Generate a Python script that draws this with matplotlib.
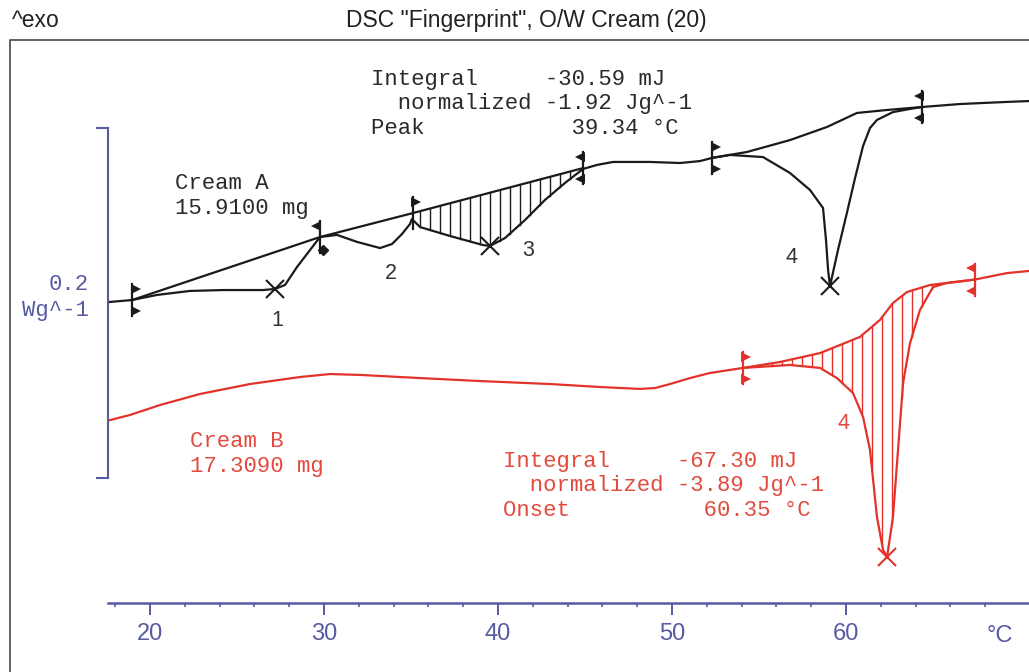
import numpy as np
import matplotlib
matplotlib.use("Agg")
import matplotlib.pyplot as plt
from matplotlib.lines import Line2D

# ---------------- data: temperature (°C) and heat flow (W/g, exo up) ----------------
cream_a_temp = [17.70, 18.97, 20.40, 22.30, 24.20, 26.49, 27.18, 27.76, 28.45, 29.20,
                29.77, 30.75, 31.90, 33.22, 33.91, 34.48, 34.94, 35.05, 35.52, 37.24,
                39.14, 39.54, 40.40, 41.55, 42.70, 43.85, 44.89, 45.69, 46.61, 48.74,
                50.46, 51.61, 52.30, 53.33, 55.23, 56.78, 57.93, 58.68, 58.85, 58.97,
                59.08, 59.54, 60.05, 60.52, 60.98, 61.38, 61.78, 62.70, 63.68, 64.37,
                66.55, 69.25, 70.52]
cream_a_hf = [0.1006, 0.1017, 0.1046, 0.1069, 0.1074, 0.1074, 0.1080, 0.1103, 0.1206, 0.1303,
              0.1377, 0.1389, 0.1349, 0.1314, 0.1337, 0.1394, 0.1451, 0.1480, 0.1434, 0.1383,
              0.1331, 0.1326, 0.1371, 0.1474, 0.1589, 0.1686, 0.1766, 0.1789, 0.1806, 0.1806,
              0.1800, 0.1811, 0.1829, 0.1846, 0.1834, 0.1743, 0.1646, 0.1543, 0.1360, 0.1189,
              0.1097, 0.1303, 0.1514, 0.1714, 0.1897, 0.2000, 0.2046, 0.2091, 0.2109, 0.2120,
              0.2137, 0.2149, 0.2154]
# straight integration baselines, peaks 1-3
cream_a_base_temp = [18.97, 29.77, 35.11, 44.89]
cream_a_base_hf = [0.1017, 0.1377, 0.1514, 0.1771]
# sigmoid baseline, peak 4
cream_a_base4_temp = [52.30, 54.31, 56.78, 58.91, 60.63, 62.36, 64.37]
cream_a_base4_hf = [0.1829, 0.1863, 0.1931, 0.2006, 0.2086, 0.2103, 0.2120]
cream_a_peak_temp = [27.18, 39.54, 59.08]
cream_a_peak_hf = [0.1080, 0.1326, 0.1097]
cream_a_limits = [18.97, 29.77, 35.11, 44.89, 52.30, 64.37]
cream_a_mark_temp = 29.94
cream_a_mark_hf = 0.1303

cream_b_temp = [17.70, 18.85, 20.57, 22.87, 25.75, 28.62, 30.34, 32.07, 35.52, 38.97,
                42.99, 45.86, 48.16, 49.02, 49.89, 51.03, 52.18, 54.08, 56.78, 58.51,
                59.48, 60.40, 60.98, 61.38, 61.78, 62.13, 62.36, 62.70, 62.99, 63.28,
                63.68, 64.25, 65.00, 65.80, 67.41, 69.25, 70.52]
cream_b_hf = [0.0331, 0.0360, 0.0417, 0.0480, 0.0537, 0.0577, 0.0594, 0.0589, 0.0571, 0.0554,
              0.0537, 0.0520, 0.0509, 0.0514, 0.0537, 0.0571, 0.0600, 0.0629, 0.0646, 0.0629,
              0.0571, 0.0486, 0.0349, 0.0160, -0.0223, -0.0411, -0.0451, -0.0223, 0.0160, 0.0543,
              0.0771, 0.0960, 0.1091, 0.1114, 0.1134, 0.1171, 0.1183]
cream_b_base_temp = [54.08, 56.21, 58.51, 60.80, 61.95, 62.70, 63.51, 64.83, 67.41]
cream_b_base_hf = [0.0629, 0.0663, 0.0714, 0.0806, 0.0903, 0.1000, 0.1063, 0.1103, 0.1134]
cream_b_peak_temp = [62.36]
cream_b_peak_hf = [-0.0451]
cream_b_limits = [54.08, 67.41]

major_ticks = [20, 30, 40, 50, 60]
minor_ticks = list(range(18, 69, 2))
scale_bar = [0.0, 0.2]

title = 'DSC "Fingerprint", O/W Cream (20)'
info_a = ["Integral     -30.59 mJ", "  normalized -1.92 Jg^-1", "Peak           39.34 °C"]
info_b = ["Integral     -67.30 mJ", "  normalized -3.89 Jg^-1", "Onset          60.35 °C"]
sample_a = ["Cream A", "15.9100 mg"]
sample_b = ["Cream B", "17.3090 mg"]

# ---------------- layout ----------------
W, H = 1029, 672
PX_PER_DEG = 17.4
X20 = 150.0
PX_PER_WG = 350.0 / 0.2
Y0 = 478.0


def px2t(px):
    return 20 + (px - X20) / PX_PER_DEG


def py2hf(py):
    return (Y0 - py) / PX_PER_WG


def fx(x):
    return x / W


def fy(y):
    return 1 - y / H


BLACK = "#1a1a1a"
TXT = "#2a2a2a"
RED = "#e3322a"
RED_TXT = "#e24a3e"
BLUE = "#565ba2"
MONO = ["Liberation Mono", "DejaVu Sans Mono"]
SANS = ["Liberation Sans", "DejaVu Sans"]

fig = plt.figure(figsize=(W / 100, H / 100), dpi=100)
ax = fig.add_axes([0, 0, 1, 1])
ax.set_xlim(px2t(0), px2t(W))
ax.set_ylim(py2hf(H), py2hf(0))
ax.patch.set_alpha(0)
for s in ["left", "right", "top"]:
    ax.spines[s].set_visible(False)
ax.yaxis.set_visible(False)
sp = ax.spines["bottom"]
sp.set_position(("data", py2hf(603)))
sp.set_bounds(px2t(108), px2t(W))
sp.set_color(BLUE)
sp.set_linewidth(1.8)
ax.set_xticks(major_ticks)
ax.set_xticks(minor_ticks, minor=True)
ax.tick_params(axis="x", which="major", direction="out", length=8.6, width=1.4,
               colors=BLUE, labelsize=17, pad=6)
ax.tick_params(axis="x", which="minor", direction="out", length=3, width=1.2, colors=BLUE)
for lbl in ax.get_xticklabels():
    lbl.set_family(SANS)

# frame
fig.add_artist(Line2D([fx(10), fx(10), fx(W + 20)], [fy(H + 20), fy(40), fy(40)],
                      color="#555555", lw=1.3))

# scale bar
tb0, tb1 = px2t(97), px2t(108)
ax.plot([tb0, tb1, tb1, tb0], [scale_bar[1], scale_bar[1], scale_bar[0], scale_bar[0]],
        color=BLUE, lw=1.5, solid_joinstyle="miter")
fig.text(fx(89), fy(290), "0.2", family=MONO, size=16, color=BLUE, ha="right", va="baseline")
fig.text(fx(89), fy(316), "Wg^-1", family=MONO, size=16, color=BLUE, ha="right", va="baseline")

# curves
ax.plot(cream_a_temp, cream_a_hf, color=BLACK, lw=1.6)
ax.plot(cream_a_base_temp, cream_a_base_hf, color=BLACK, lw=1.6)
ax.plot(cream_a_base4_temp, cream_a_base4_hf, color=BLACK, lw=1.6)
ax.plot(cream_b_temp, cream_b_hf, color=RED, lw=1.6)
ax.plot(cream_b_base_temp, cream_b_base_hf, color=RED, lw=1.6)


def hatch(t0, t1, base_t, base_y, cur_t, cur_y, color):
    for t in np.arange(t0, t1, 10 / PX_PER_DEG):
        yt = np.interp(t, base_t, base_y)
        yb = np.interp(t, cur_t, cur_y)
        if yt > yb:
            ax.plot([t, t], [yb, yt], color=color, lw=1.0)


hatch(px2t(420), px2t(580), cream_a_base_temp, cream_a_base_hf, cream_a_temp, cream_a_hf, BLACK)
hatch(px2t(772), px2t(960), cream_b_base_temp, cream_b_base_hf, cream_b_temp, cream_b_hf, RED)

# peak crosses
ax.plot(cream_a_peak_temp, cream_a_peak_hf, "x", color=BLACK, ms=13, mew=1.5)
ax.plot(cream_b_peak_temp, cream_b_peak_hf, "x", color=RED, ms=13, mew=1.5)
ax.plot([cream_a_mark_temp], [cream_a_mark_hf], "D", color=BLACK, ms=5.5)


def limit_mark(t, y, color, left, top=True, bottom=True):
    dy = 16 / PX_PER_WG
    ax.plot([t, t], [y - dy, y + dy], color=color, lw=1.6)
    dx = (-3.5 if left else 3.5) / PX_PER_DEG
    ys = []
    if top:
        ys.append(y + 0.7 * dy)
    if bottom:
        ys.append(y - 0.7 * dy)
    ax.plot([t + dx] * len(ys), ys, "<" if left else ">", color=color, ms=7.5, mew=0)


ya = np.interp(cream_a_limits, cream_a_base_temp + cream_a_base4_temp,
               cream_a_base_hf + cream_a_base4_hf)
limit_mark(cream_a_limits[0], ya[0], BLACK, left=False)
limit_mark(cream_a_limits[1], ya[1], BLACK, left=True, bottom=False)
limit_mark(cream_a_limits[2], ya[2], BLACK, left=False, bottom=False)
limit_mark(cream_a_limits[3], ya[3], BLACK, left=True)
limit_mark(cream_a_limits[4], ya[4], BLACK, left=False)
limit_mark(cream_a_limits[5], ya[5], BLACK, left=True)
yb = np.interp(cream_b_limits, cream_b_base_temp, cream_b_base_hf)
limit_mark(cream_b_limits[0], yb[0], RED, left=False)
limit_mark(cream_b_limits[1], yb[1], RED, left=True)

# peak numbers
for txt, x, y, c in [("1", 277, 326, "#333333"), ("2", 391, 279, "#333333"),
                     ("3", 528, 256, "#333333"), ("4", 792, 263, "#333333"),
                     ("4", 843, 429, RED_TXT)]:
    fig.text(fx(x), fy(y), txt, family=SANS, size=15.5, color=c, ha="center", va="baseline")

# texts
fig.text(fx(12), fy(27), "^exo", family=SANS, size=16.5, color="#222222", va="baseline")
fig.text(fx(526), fy(27), title, family=SANS, size=16.5, color="#222222", ha="center",
         va="baseline")
for i, line in enumerate(info_a):
    fig.text(fx(371), fy(85 + 24.5 * i), line, family=MONO, size=16, color=TXT,
             va="baseline")
for i, line in enumerate(sample_a):
    fig.text(fx(175), fy(189 + 25 * i), line, family=MONO, size=16, color=TXT,
             va="baseline")
for i, line in enumerate(sample_b):
    fig.text(fx(190), fy(447 + 25 * i), line, family=MONO, size=16, color=RED_TXT,
             va="baseline")
for i, line in enumerate(info_b):
    fig.text(fx(503), fy(467 + 24.5 * i), line, family=MONO, size=16, color=RED_TXT,
             va="baseline")
fig.text(fx(1000), fy(642), "°C", family=SANS, size=17, color=BLUE, ha="center", va="baseline")

fig.savefig("out.png", dpi=100)
